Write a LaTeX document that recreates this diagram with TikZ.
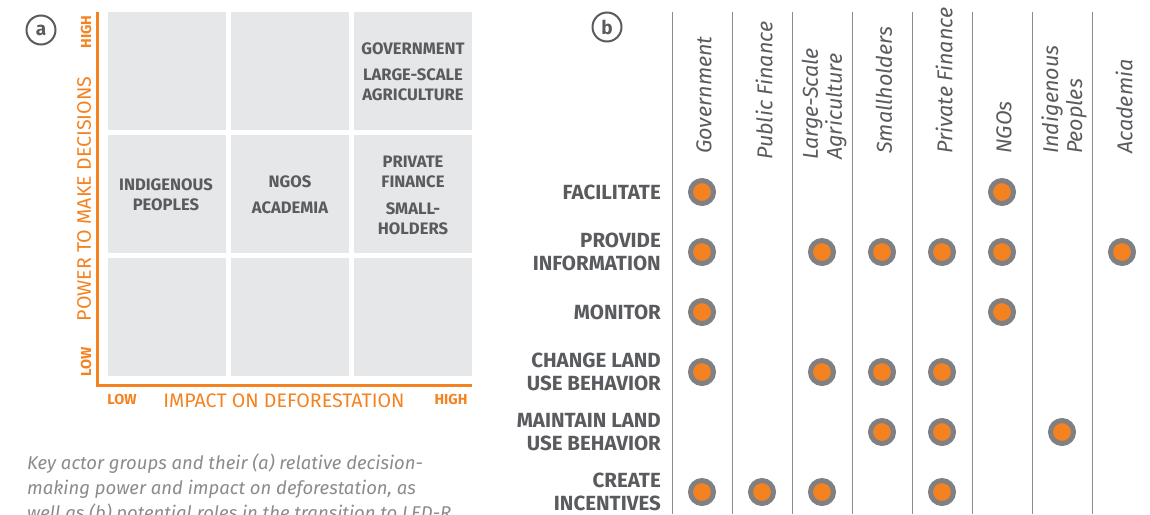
\documentclass[tikz,border=0pt]{standalone}
\usepackage{fontspec}
\setmainfont{Fira Sans}
\definecolor{org}{HTML}{F58220}
\definecolor{cellg}{HTML}{E6E7E8}
\definecolor{txtg}{HTML}{5A5B5E}
\definecolor{lineg}{HTML}{8C8C8C}
\definecolor{ringg}{HTML}{808083}
\definecolor{capg}{HTML}{8A8B8D}
\begin{document}
\begin{tikzpicture}[x=1pt,y=-1pt,
  cell/.style={fill=cellg, draw=none, minimum width=118, minimum height=118, inner sep=0, anchor=north west},
  celltxt/.style={font=\bfseries\fontsize{16.6}{20}\selectfont, text=txtg, align=center, inner sep=0},
  axlab/.style={font=\fontsize{19.6}{20}\selectfont, text=org, inner sep=0},
  axsmall/.style={font=\bfseries\fontsize{14.5}{16}\selectfont, text=org, inner sep=0},
  rowlab/.style={font=\bfseries\fontsize{20.5}{23}\selectfont, text=txtg, align=right, anchor=east, inner sep=0},
  colhead/.style={font=\itshape\fontsize{21.5}{24}\selectfont, text=txtg, rotate=90, anchor=west, align=left, inner sep=0},
  dot/.style={circle, fill=org, draw=ringg, line width=5, minimum size=23, inner sep=0},
  panel/.style={circle, draw=txtg, line width=2, minimum size=29, inner sep=0, font=\bfseries\fontsize{19}{20}\selectfont, text=txtg},
  vline/.style={draw=lineg, line width=1},
  axis/.style={draw=org, line width=3}
]
\useasboundingbox (0,0) rectangle (1150,514);

% ---------- panel a ----------
\node[panel] (pa) at (41,30) {a};
\foreach \c/\x in {1/108,2/231,3/354}{
  \foreach \r/\y in {1/12,2/135,3/258}{
    \node[cell] (c\r\c) at (\x,\y) {};
  }
}
\coordinate (axtop) at (97,12);
\coordinate (axorig) at (97,385);
\coordinate (axright) at (472,385);
\draw[axis] (axtop) -- (axorig) -- (axright);

\node[axsmall, rotate=90] (yhigh) at (86,32) {HIGH};
\node[axsmall, rotate=90] (ylow) at (86,362) {LOW};
\node[axlab, rotate=90] (ytitle) at (84,199) {POWER TO MAKE DECISIONS};
\node[axsmall] (xlow) at (122,399) {LOW};
\node[axsmall] (xhigh) at (451,399) {HIGH};
\node[axlab] (xtitle) at (284,401) {IMPACT ON DEFORESTATION};

\node[celltxt] (t-gov) at (413,49) {GOVERNMENT};
\node[celltxt] (t-lsa) at (413,85) {LARGE-SCALE\\AGRICULTURE};
\node[celltxt] (t-ind) at (166,195) {INDIGENOUS\\PEOPLES};
\node[celltxt] (t-ngo) at (290,182) {NGOS};
\node[celltxt] (t-aca) at (290,208) {ACADEMIA};
\node[celltxt] (t-pf) at (413,172) {PRIVATE\\FINANCE};
\node[celltxt] (t-sh) at (413,219) {SMALL-\\HOLDERS};

\node[font=\itshape\fontsize{18.5}{25}\selectfont, text=capg, align=left, anchor=north west, inner sep=0] (caption) at (27,454)
  {Key actor groups and their (a) relative decision-\\making power and impact on deforestation, as\\well as (b) potential roles in the transition to LED-R};

% ---------- panel b ----------
\node[panel] (pb) at (607,27) {b};
\foreach \k in {0,...,7}{
  \coordinate (vt\k) at (672+60*\k,12);
  \coordinate (vb\k) at (672+60*\k,514);
  \draw[vline] (vt\k) -- (vb\k);
}
\node[colhead] (h0) at (704,154) {Government};
\node[colhead] (h1) at (764,160) {Public Finance};
\node[colhead] (h2) at (824,160) {Large-Scale\\Agriculture};
\node[colhead] (h3) at (884,154) {Smallholders};
\node[colhead] (h4) at (944,154) {Private Finance};
\node[colhead] (h5) at (1004,154) {NGOs};
\node[colhead] (h6) at (1064,154) {Indigenous\\Peoples};
\node[colhead] (h7) at (1124,154) {Academia};

\node[rowlab] (r1) at (661,192) {FACILITATE};
\node[rowlab] (r2) at (661,252) {PROVIDE\\INFORMATION};
\node[rowlab] (r3) at (661,312) {MONITOR};
\node[rowlab] (r4) at (661,372) {CHANGE LAND\\USE BEHAVIOR};
\node[rowlab] (r5) at (661,432) {MAINTAIN LAND\\USE BEHAVIOR};
\node[rowlab] (r6) at (661,492) {CREATE\\INCENTIVES};

\foreach \r/\cols in {1/{0,5}, 2/{0,2,3,4,5,7}, 3/{0,5}, 4/{0,2,3,4}, 5/{3,4,6}, 6/{0,1,2,4}}{
  \foreach \c in \cols{
    \node[dot] (d\r-\c) at (702+60*\c,132+60*\r) {};
  }
}
\end{tikzpicture}
\end{document}
